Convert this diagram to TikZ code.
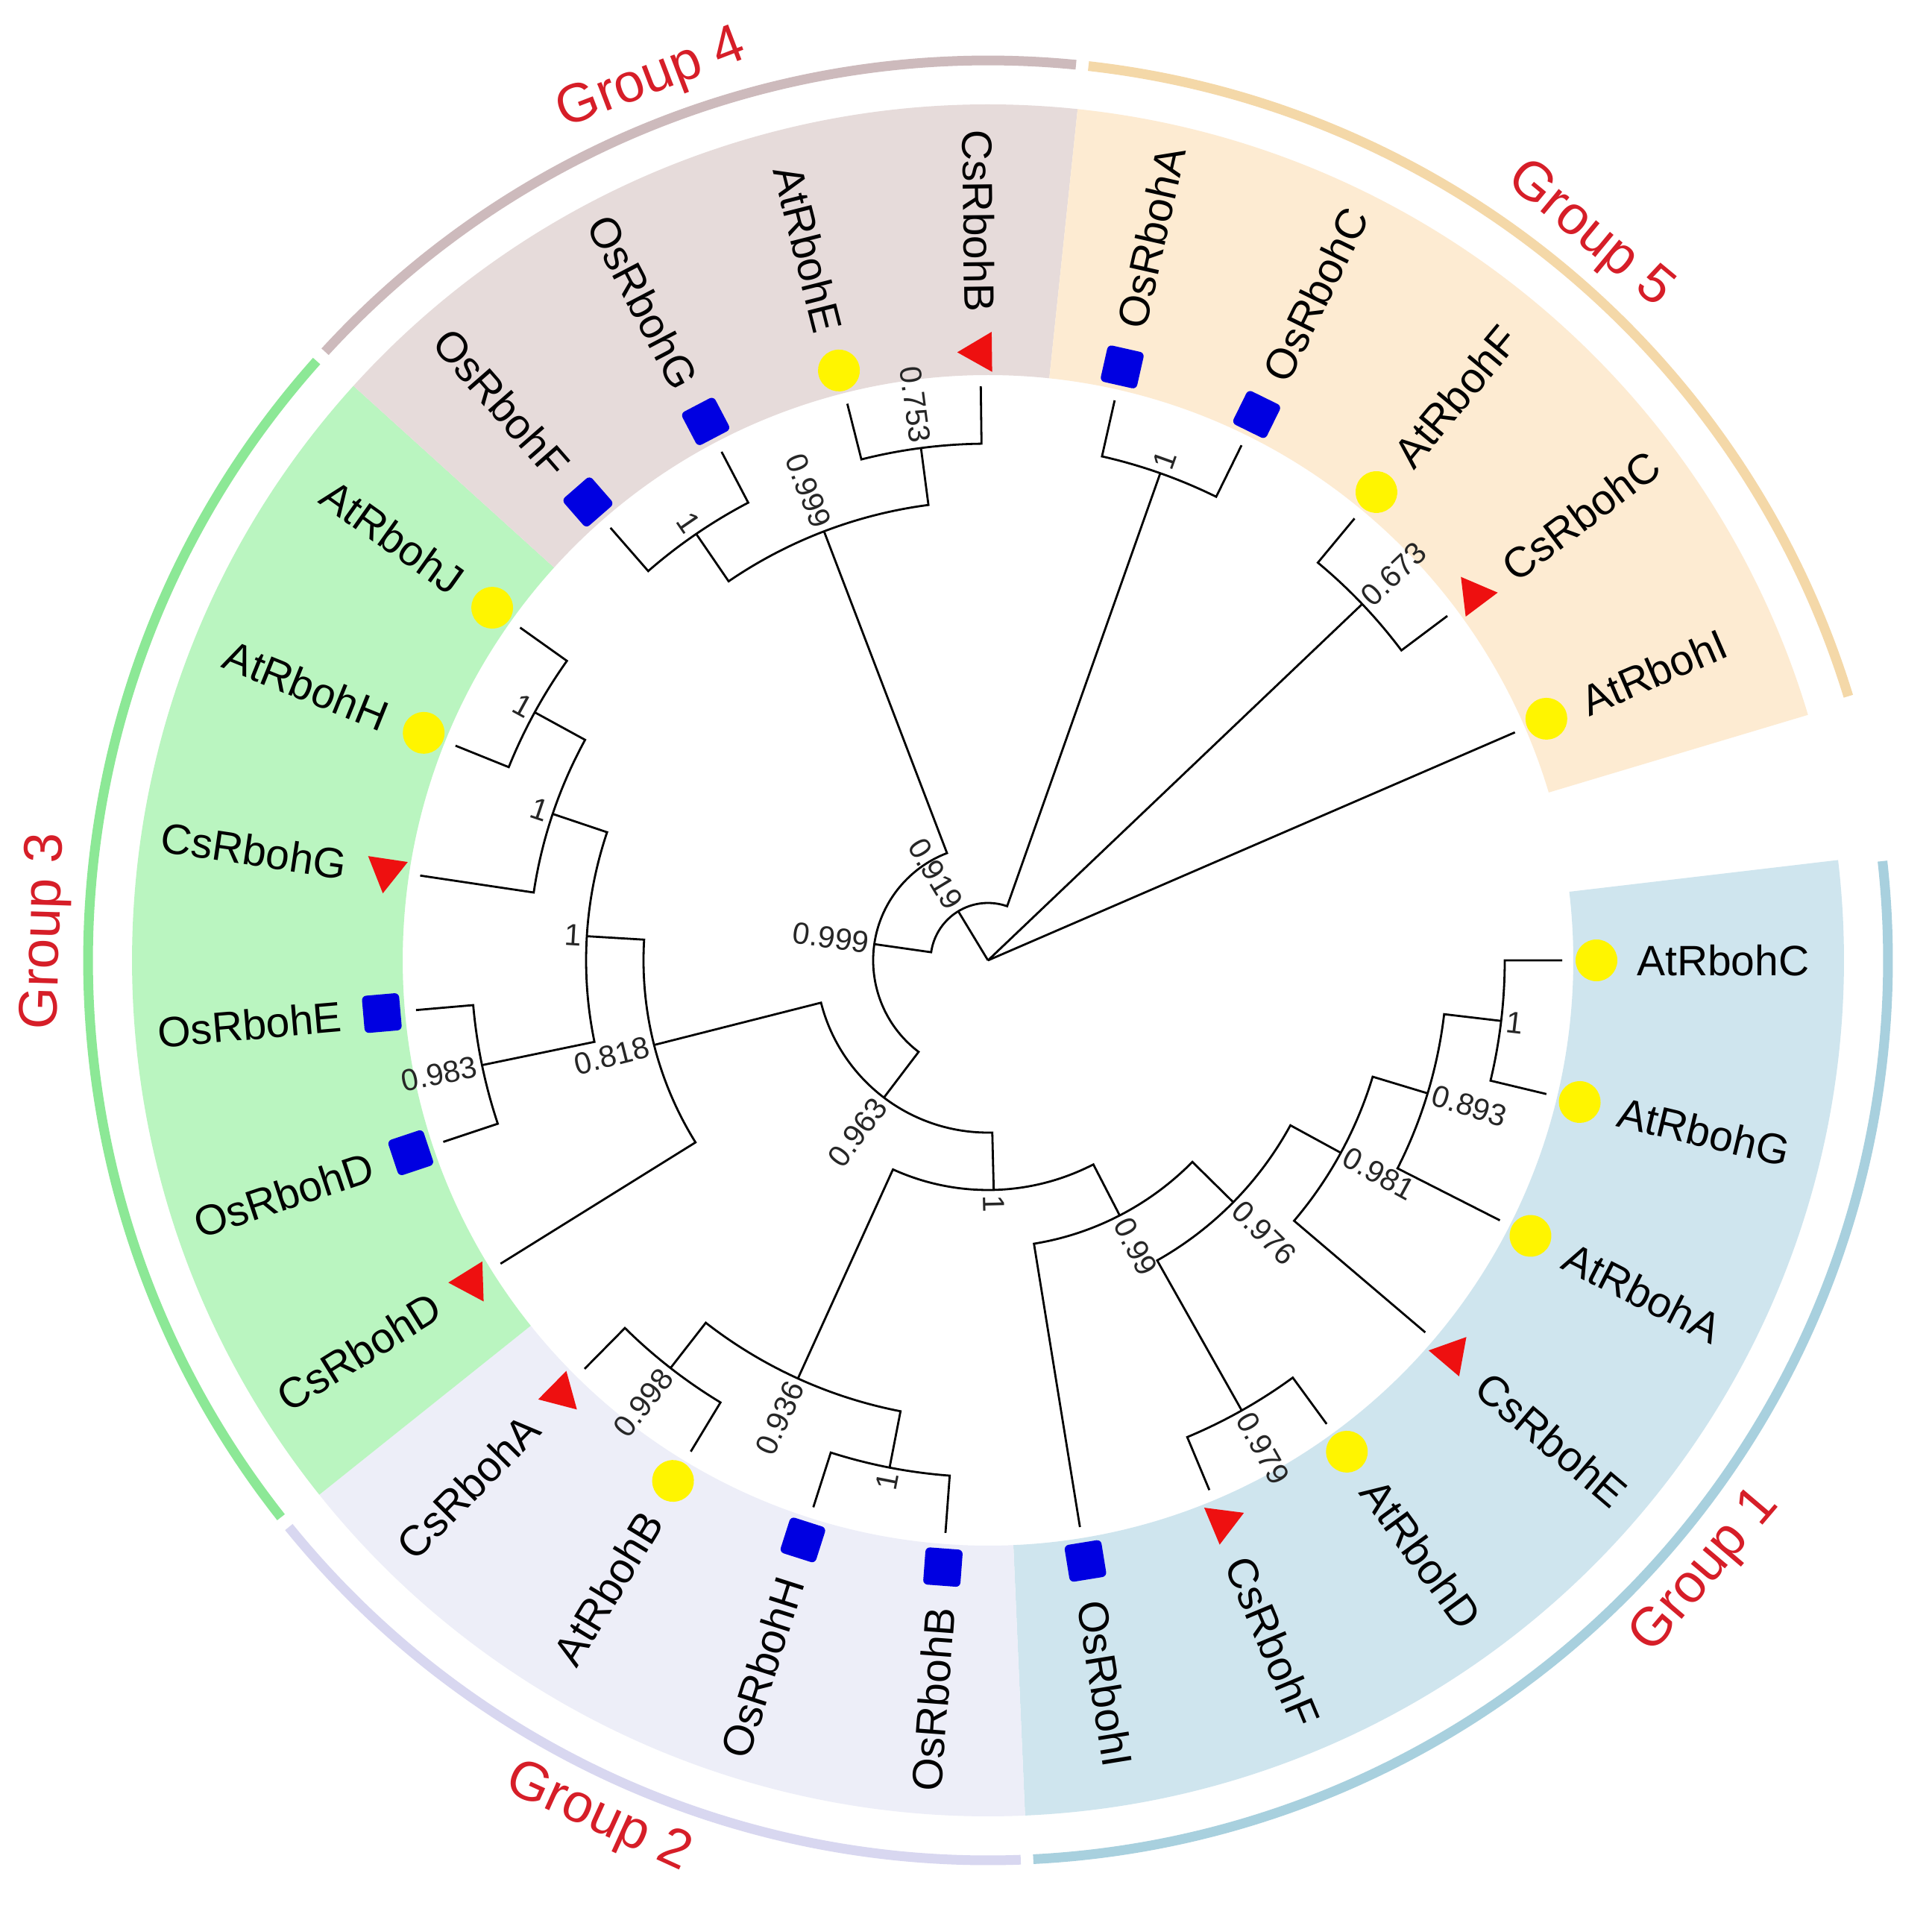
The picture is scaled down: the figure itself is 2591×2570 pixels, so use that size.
\documentclass[tikz,border=0pt]{standalone}
\usepackage{fontspec}
\setmainfont{Liberation Sans}
\usetikzlibrary{shapes.geometric}
\definecolor{gOneBand}{RGB}{207,229,238}
\definecolor{gOneRing}{RGB}{168,208,222}
\definecolor{gTwoBand}{RGB}{237,238,248}
\definecolor{gTwoRing}{RGB}{216,215,240}
\definecolor{gThreeBand}{RGB}{186,245,192}
\definecolor{gThreeRing}{RGB}{140,232,150}
\definecolor{gFourBand}{RGB}{230,219,218}
\definecolor{gFourRing}{RGB}{205,186,188}
\definecolor{gFiveBand}{RGB}{253,235,210}
\definecolor{gFiveRing}{RGB}{244,216,168}
\definecolor{grpred}{RGB}{214,30,40}
\definecolor{mkyellow}{RGB}{255,245,0}
\definecolor{mkblue}{RGB}{0,0,225}
\definecolor{mkred}{RGB}{238,16,16}

% label placed radially: angle, radius, style, text
\newcommand\radlabel[4]{%
  \pgfmathsetmacro\myca{cos(#1)}%
  \ifdim\myca pt>0pt
    \node[#3, anchor=west, rotate=#1] at (#1:#2pt) {#4};
  \else
    \node[#3, anchor=east, rotate=#1+180] at (#1:#2pt) {#4};
  \fi}
% bootstrap value at a node: angle, radius, text
\newcommand\bsv[3]{%
  \pgfmathsetmacro\myrr{#2+7}%
  \radlabel{#1}{\myrr}{bslab}{#3}}
% leaf: name, angle, marker style, text
\newcommand\leaf[4]{%
  \coordinate (#1) at (#2:770pt);
  \node[#3, rotate=#2] (#1m) at (#2:816pt) {};
  \radlabel{#2}{870}{leaflab}{#4}}
% internal node coordinate: name, angle, radius
\newcommand\inode[3]{\coordinate (#1) at (#2:#3pt);}
% clade: radius, angle1, child1, angle2, child2
\newcommand\ctwo[5]{%
  \draw[br] (#3) -- (#2:#1pt) arc[start angle=#2, end angle=#4, radius=#1pt] -- (#5);}
% band sector: a1, a2, colour
\newcommand\bandsec[3]{%
  \fill[#3] (#1:785pt) arc[start angle=#1, end angle=#2, radius=785pt]
    -- (#2:1148pt) arc[start angle=#2, end angle=#1, radius=1148pt] -- cycle;}
% outer ring: a1, a2, colour
\newcommand\grpring[3]{%
  \pgfmathsetmacro\mya{#1-0.4}\pgfmathsetmacro\myb{#2+0.4}%
  \draw[#3, line width=13pt] (\mya:1207pt) arc[start angle=\mya, end angle=\myb, radius=1207pt];}
% group label: angle, text
\newcommand\grplabel[2]{%
  \pgfmathsetmacro\mysa{sin(#1)}%
  \ifdim\mysa pt>0pt
    \node[grplab, rotate=#1-90] at (#1:1264pt) {#2};
  \else
    \node[grplab, rotate=#1+90] at (#1:1264pt) {#2};
  \fi}

\begin{document}
\begin{tikzpicture}[x=1pt,y=1pt,
  br/.style={line width=2.8pt, line join=miter, line cap=butt, black},
  leaflab/.style={inner sep=0pt, font=\fontsize{57}{57}\selectfont, text=black},
  bslab/.style={inner sep=0pt, font=\fontsize{41}{41}\selectfont, text=black!85},
  grplab/.style={inner sep=0pt, font=\fontsize{73}{73}\selectfont, text=grpred},
  atm/.style={circle, fill=mkyellow, minimum size=56pt, inner sep=0pt},
  osm/.style={rectangle, rounded corners=6pt, fill=mkblue, minimum size=50pt, inner sep=0pt},
  csm/.style={regular polygon, regular polygon sides=3, fill=mkred, minimum size=62pt, inner sep=0pt}]
\useasboundingbox (-1325,-1282) rectangle (1266,1288);
\fill[white] (-1325,-1282) rectangle (1266,1288);

% coloured bands
\bandsec{6.732}{-87.516}{gOneBand}
\bandsec{-87.516}{-141.372}{gTwoBand}
\bandsec{-141.372}{-222.156}{gThreeBand}
\bandsec{-222.156}{-276.012}{gFourBand}
\bandsec{-276.012}{-343.332}{gFiveBand}

% outer rings
\grpring{6.732}{-87.516}{gOneRing}
\grpring{-87.516}{-141.372}{gTwoRing}
\grpring{-141.372}{-222.156}{gThreeRing}
\grpring{-222.156}{-276.012}{gFourRing}
\grpring{-276.012}{-343.332}{gFiveRing}

% group labels
\grplabel{-40.392}{Group 1}
\grplabel{-114.444}{Group 2}
\grplabel{-181.764}{Group 3}
\grplabel{-249.084}{Group 4}
\grplabel{-309.672}{Group 5}

% leaves
\leaf{L0}{0}{atm}{AtRbohC}
\leaf{L1}{-13.464}{atm}{AtRbohG}
\leaf{L2}{-26.928}{atm}{AtRbohA}
\leaf{L3}{-40.392}{csm}{CsRbohE}
\leaf{L4}{-53.856}{atm}{AtRbohD}
\leaf{L5}{-67.32}{csm}{CsRbohF}
\leaf{L6}{-80.784}{osm}{OsRbohI}
\leaf{L7}{-94.248}{osm}{OsRbohB}
\leaf{L8}{-107.712}{osm}{OsRbohH}
\leaf{L9}{-121.176}{atm}{AtRbohB}
\leaf{L10}{-134.64}{csm}{CsRbohA}
\leaf{L11}{-148.104}{csm}{CsRbohD}
\leaf{L12}{-161.568}{osm}{OsRbohD}
\leaf{L13}{-175.032}{osm}{OsRbohE}
\leaf{L14}{-188.496}{csm}{CsRbohG}
\leaf{L15}{-201.96}{atm}{AtRbohH}
\leaf{L16}{-215.424}{atm}{AtRbohJ}
\leaf{L17}{-228.888}{osm}{OsRbohF}
\leaf{L18}{-242.352}{osm}{OsRbohG}
\leaf{L19}{-255.816}{atm}{AtRbohE}
\leaf{L20}{-269.28}{csm}{CsRbohB}
\leaf{L21}{-282.744}{osm}{OsRbohA}
\leaf{L22}{-296.208}{osm}{OsRbohC}
\leaf{L23}{-309.672}{atm}{AtRbohF}
\leaf{L24}{-323.136}{csm}{CsRbohC}
\leaf{L25}{-336.6}{atm}{AtRbohI}

% internal nodes
\coordinate (root) at (0,0);
\inode{N1}{-238.802}{77}
\inode{N2}{-188.128}{154}
\inode{N3}{-127.172}{231}
\inode{T4}{-88.568}{308}
\inode{X99}{-62.692}{385}
\inode{X976}{-44.5995}{462}
\inode{X981}{-28.611}{539}
\inode{X893}{-16.83}{616}
\inode{X1g}{-6.732}{693}
\inode{X979}{-60.588}{693}
\inode{X936}{-114.444}{616}
\inode{X998}{-127.908}{693}
\inode{X1h}{-100.98}{693}
\inode{X818}{-165.7755}{462}
\inode{X1c}{-183.447}{539}
\inode{X1b}{-198.594}{616}
\inode{X1a}{-208.692}{693}
\inode{X983}{-168.3}{693}
\inode{X999}{-249.084}{616}
\inode{X1fg}{-235.62}{693}
\inode{X753}{-262.548}{693}
\inode{Xac}{-289.476}{693}
\inode{X673}{-316.404}{693}

% tree branches
\draw[br] (root) -- (N1);
\draw[br] (root) -- (X673);
\draw[br] (root) -- (L25);
\ctwo{77}{-188.128}{N2}{-289.476}{Xac}
\ctwo{154}{-127.172}{N3}{-249.084}{X999}
\ctwo{231}{-88.568}{T4}{-165.7755}{X818}
\ctwo{308}{-62.692}{X99}{-114.444}{X936}
\ctwo{385}{-44.5995}{X976}{-80.784}{L6}
\ctwo{462}{-28.611}{X981}{-60.588}{X979}
\ctwo{539}{-16.83}{X893}{-40.392}{L3}
\ctwo{616}{-6.732}{X1g}{-26.928}{L2}
\ctwo{693}{0}{L0}{-13.464}{L1}
\ctwo{693}{-53.856}{L4}{-67.32}{L5}
\ctwo{616}{-100.98}{X1h}{-127.908}{X998}
\ctwo{693}{-94.248}{L7}{-107.712}{L8}
\ctwo{693}{-121.176}{L9}{-134.64}{L10}
\ctwo{462}{-148.104}{L11}{-183.447}{X1c}
\ctwo{539}{-168.3}{X983}{-198.594}{X1b}
\ctwo{693}{-161.568}{L12}{-175.032}{L13}
\ctwo{616}{-188.496}{L14}{-208.692}{X1a}
\ctwo{693}{-201.96}{L15}{-215.424}{L16}
\ctwo{616}{-235.62}{X1fg}{-262.548}{X753}
\ctwo{693}{-228.888}{L17}{-242.352}{L18}
\ctwo{693}{-255.816}{L19}{-269.28}{L20}
\ctwo{693}{-282.744}{L21}{-296.208}{L22}
\ctwo{693}{-309.672}{L23}{-323.136}{L24}

% bootstrap values
\bsv{-238.802}{77}{0.919}
\bsv{-188.128}{154}{0.999}
\bsv{-127.172}{231}{0.963}
\bsv{-88.568}{308}{1}
\bsv{-62.692}{385}{0.99}
\bsv{-44.5995}{462}{0.976}
\bsv{-28.611}{539}{0.981}
\bsv{-16.83}{616}{0.893}
\bsv{-6.732}{693}{1}
\bsv{-60.588}{693}{0.979}
\bsv{-114.444}{616}{0.936}
\bsv{-127.908}{693}{0.998}
\bsv{-100.98}{693}{1}
\bsv{-165.7755}{462}{0.818}
\bsv{-183.447}{539}{1}
\bsv{-198.594}{616}{1}
\bsv{-208.692}{693}{1}
\bsv{-168.3}{693}{0.983}
\bsv{-249.084}{616}{0.999}
\bsv{-235.62}{693}{1}
\bsv{-262.548}{693}{0.753}
\bsv{-289.476}{693}{1}
\bsv{-316.404}{693}{0.673}
\end{tikzpicture}
\end{document}
